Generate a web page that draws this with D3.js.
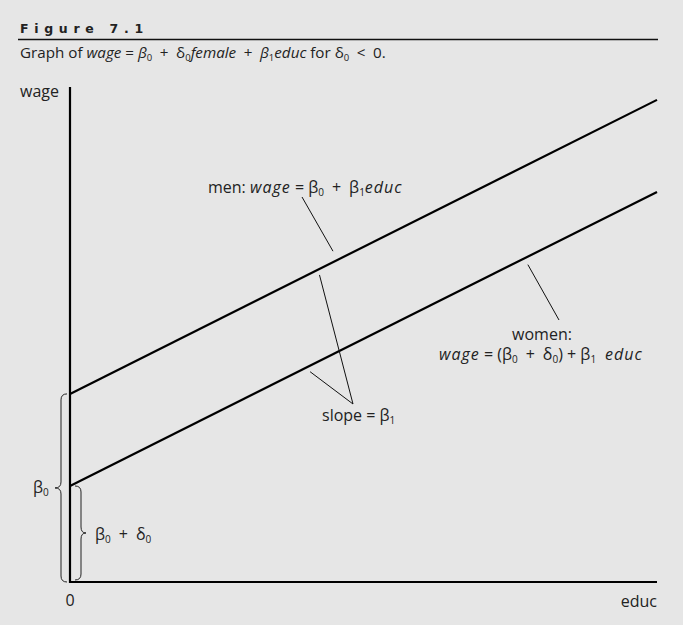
<!DOCTYPE html>
<html><head><meta charset="utf-8">
<script src="https://cdn.jsdelivr.net/npm/d3@7"></script>
<style>
html,body{margin:0;padding:0;background:#e6e6e6;}
svg{display:block;}
text{font-family:"Open Sans","Noto Sans",sans-serif;fill:#222;}
</style></head>
<body>
<script>
// ---- data ----
const groups = ["men", "women"];
const intercepts = [3.8, 1.94];   // beta0, beta0 + delta0 (wage units)
const slopes = [0.297, 0.297];    // beta1
const educDomain = [0, 20];
const wageDomain = [0, 10];
const axisLabels = { x: "educ", y: "wage", origin: "0" };

const W = 683, H = 625;
const svg = d3.select("body").append("svg").attr("width", W).attr("height", H);
svg.append("rect").attr("width", W).attr("height", H).attr("fill", "#e6e6e6");

const x = d3.scaleLinear().domain(educDomain).range([70, 657]);
const y = d3.scaleLinear().domain(wageDomain).range([582, 87]);
const SP = "\u2002";

// ---- title ----
svg.append("text").attr("x", 20).attr("y", 33)
  .style("font-family", "'DejaVu Sans', sans-serif")
  .style("font-weight", "bold").style("font-size", "12.5px").style("letter-spacing", "5.7px")
  .text("Figure 7.1");
svg.append("line").attr("x1", 18).attr("x2", 658).attr("y1", 39.5).attr("y2", 39.5)
  .attr("stroke", "#111").attr("stroke-width", 1.3);

function rich(sel, parts, ls) {
  parts.forEach(p => {
    const t = sel.append("tspan").text(p.t);
    if (p.i) t.style("font-style", "italic").style("letter-spacing", (ls || 0) + "px");
    else t.style("letter-spacing", "0px");
    if (p.sub) t.style("font-size", p.sub).attr("dy", p.dy);
    else if (p.dy) t.attr("dy", p.dy);
  });
}

const st = svg.append("text").attr("x", 20).attr("y", 58).style("font-size", "15.2px");
rich(st, [
  { t: "Graph of " }, { t: "wage", i: true }, { t: " = " }, { t: "β", i: true },
  { t: "0", sub: "9.5px", dy: 2.5 }, { t: SP + "+" + SP, dy: -2.5 }, { t: "δ" }, { t: "0", sub: "9.5px", dy: 2.5 },
  { t: "female", i: true, dy: -2.5 }, { t: SP + "+" + SP }, { t: "β", i: true }, { t: "1", sub: "9.5px", dy: 2.5 },
  { t: "educ", i: true, dy: -2.5 }, { t: " for " }, { t: "δ" }, { t: "0", sub: "9.5px", dy: 2.5 },
  { t: SP + "<" + SP + "0.", dy: -2.5 }
], 0);

// ---- axes ----
svg.append("line").attr("x1", x(0)).attr("x2", x(0)).attr("y1", y(wageDomain[1])).attr("y2", y(0) + 1)
  .attr("stroke", "#000").attr("stroke-width", 2.2);
svg.append("line").attr("x1", x(0) - 1).attr("x2", x(educDomain[1])).attr("y1", y(0)).attr("y2", y(0))
  .attr("stroke", "#000").attr("stroke-width", 2.2);
svg.append("text").attr("x", 20).attr("y", 97).style("font-size", "16px").text(axisLabels.y);
svg.append("text").attr("x", x(0)).attr("y", 606).attr("text-anchor", "middle").style("font-size", "16px").text(axisLabels.origin);
svg.append("text").attr("x", x(educDomain[1])).attr("y", 607).attr("text-anchor", "end").style("font-size", "16px").text(axisLabels.x);

// ---- regression lines ----
const lineGen = d3.line().x(d => x(d[0])).y(d => y(d[1]));
groups.forEach((g, i) => {
  const pts = educDomain.map(e => [e, intercepts[i] + slopes[i] * e]);
  svg.append("path").attr("d", lineGen(pts)).attr("fill", "none")
    .attr("stroke", "#000").attr("stroke-width", 2.2);
});
const lineY = (i, e) => y(intercepts[i] + slopes[i] * e);

// ---- braces ----
function brace(xs, y1, y2, dir, a, b, r) {
  const ym = (y1 + y2) / 2;
  const p = d3.path();
  p.moveTo(xs - dir * a, y1);
  p.quadraticCurveTo(xs, y1, xs, y1 + r);
  p.lineTo(xs, ym - r);
  p.quadraticCurveTo(xs, ym, xs + dir * b, ym);
  p.quadraticCurveTo(xs, ym, xs, ym + r);
  p.lineTo(xs, y2 - r);
  p.quadraticCurveTo(xs, y2, xs - dir * a, y2);
  return p.toString();
}
svg.append("path").attr("d", brace(x(0) - 9, y(intercepts[0]), y(0), -1, 6, 6, 6))
  .attr("fill", "none").attr("stroke", "#222").attr("stroke-width", 1);
svg.append("path").attr("d", brace(x(0) + 11, y(intercepts[1]), y(0) - 2, 1, 6, 5, 6))
  .attr("fill", "none").attr("stroke", "#222").attr("stroke-width", 1);

const b0 = svg.append("text").attr("x", 33).attr("y", 493).style("font-size", "16px");
rich(b0, [{ t: "β" }, { t: "0", sub: "10px", dy: 2.5 }]);
const b0d = svg.append("text").attr("x", 95).attr("y", 540).style("font-size", "16px");
rich(b0d, [{ t: "β" }, { t: "0", sub: "10px", dy: 2.5 }, { t: SP + "+" + SP, dy: -2.5 }, { t: "δ" }, { t: "0", sub: "10px", dy: 2.5 }]);

// ---- annotations ----
const lead = (x1, y1, x2, y2) => svg.append("line").attr("x1", x1).attr("y1", y1).attr("x2", x2).attr("y2", y2)
  .attr("stroke", "#111").attr("stroke-width", 1);

// men
lead(302, 197, x(8.96), lineY(0, 8.96) - 11);
const mt = svg.append("text").attr("x", 208).attr("y", 193).style("font-size", "16px");
rich(mt, [{ t: "men: " }, { t: "wage", i: true }, { t: " = β" }, { t: "0", sub: "10px", dy: 2.5 },
  { t: SP + "+" + SP + "β", dy: -2.5 }, { t: "1", sub: "10px", dy: 2.5 }, { t: "educ", i: true, dy: -2.5 }], 1);

// slope
lead(x(8.5), lineY(0, 8.5) + 6, 353, 404);
lead(x(8.18), lineY(1, 8.18) + 6, 353, 404);
const sl = svg.append("text").attr("x", 322).attr("y", 421).style("font-size", "16px");
rich(sl, [{ t: "slope = β" }, { t: "1", sub: "10px", dy: 2.5 }]);

// women
lead(x(15.6), lineY(1, 15.6) + 8, 559, 320);
svg.append("text").attr("x", 542).attr("y", 340).attr("text-anchor", "middle").style("font-size", "16px").text("women:");
const wt = svg.append("text").attr("x", 439).attr("y", 360).style("font-size", "16px");
rich(wt, [{ t: "wage", i: true }, { t: " = (β" }, { t: "0", sub: "10px", dy: 2.5 }, { t: SP + "+" + SP + "δ", dy: -2.5 },
  { t: "0", sub: "10px", dy: 2.5 }, { t: ") + β", dy: -2.5 }, { t: "1", sub: "10px", dy: 2.5 }, { t: "\u2002educ", i: true, dy: -2.5 }], 1);
</script>
</body></html>
